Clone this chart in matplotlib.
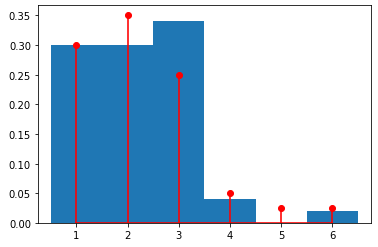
import matplotlib
matplotlib.use('Agg')
import matplotlib.pyplot as plt
import numpy as np

# histogram bars (unit wide, centered on faces)
faces = [1, 2, 3, 4, 5, 6]
hist_heights = [0.30, 0.30, 0.34, 0.04, 0.0, 0.02]

# stem values
probs = [0.30, 0.35, 0.25, 0.05, 0.025, 0.025]

fig, ax = plt.subplots(figsize=(5.25, 3.444), dpi=72)
fig.subplots_adjust(left=0.1005, right=0.981, top=0.976, bottom=0.097)

ax.bar(faces, hist_heights, width=1.0, color='tab:blue')

markerline, stemlines, baseline = ax.stem(faces, probs, linefmt='r-', markerfmt='ro', basefmt='r-')
stemlines.set_alpha(0.8)
stemlines.set_linewidth(2)
baseline.set_alpha(0.8)
baseline.set_linewidth(2)
markerline.set_markersize(6)

ax.set_xlim(0.25, 6.75)
ax.set_ylim(0, 0.3675)
ax.set_yticks(np.arange(0, 0.351, 0.05))

fig.savefig('out.png', dpi=72)
